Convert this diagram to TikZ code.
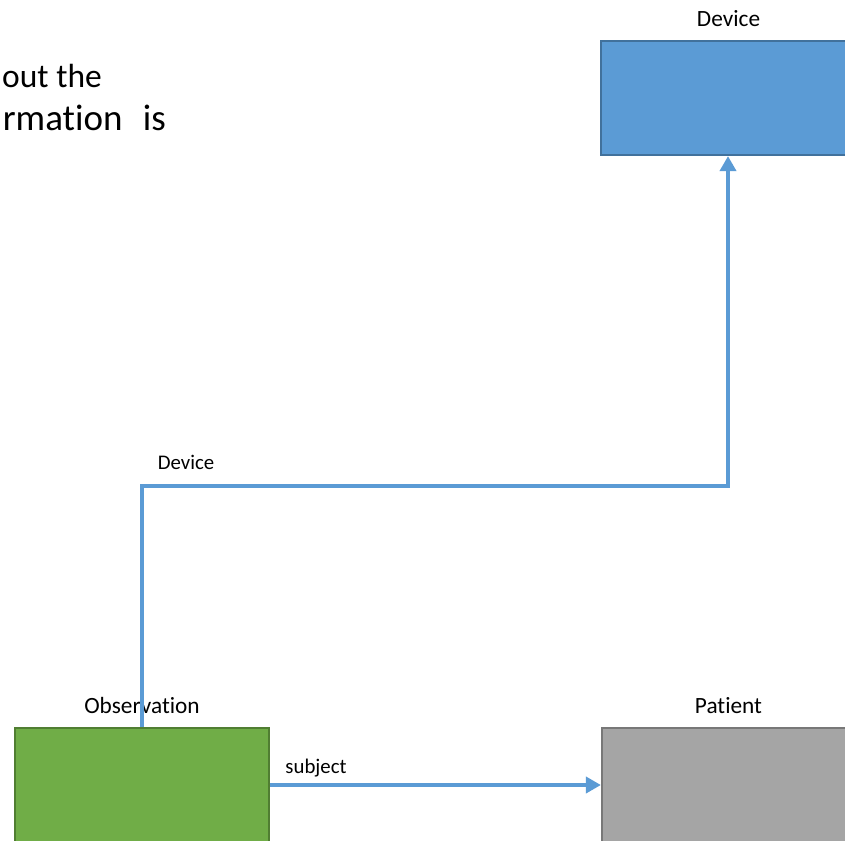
\documentclass[tikz,border=0pt]{standalone}
\usepackage{fontspec}
\setmainfont[Ligatures={NoCommon}]{Carlito}
\usetikzlibrary{arrows.meta}
\definecolor{lnblue}{HTML}{5B9BD5}
\definecolor{devfill}{HTML}{5B9BD5}
\definecolor{devdraw}{HTML}{41719C}
\definecolor{obsfill}{HTML}{70AD47}
\definecolor{obsdraw}{HTML}{507E32}
\definecolor{patfill}{HTML}{A5A5A5}
\definecolor{patdraw}{HTML}{787878}
\tikzset{
  box/.style={rectangle, minimum width=254pt, minimum height=114pt, line width=2.2pt, inner sep=0pt},
  boxlabel/.style={anchor=base, inner sep=0pt, font=\fontsize{23.3}{28}\selectfont},
  edgelabel/.style={anchor=base, inner sep=0pt, font=\fontsize{20.8}{25}\selectfont},
  bigtext/.style={anchor=base east, inner sep=0pt, font=\fontsize{36}{43}\selectfont},
  conn/.style={draw=lnblue, line width=4pt, -{Triangle[length=15pt,width=16pt]}}
}
\begin{document}
\begin{tikzpicture}[x=1pt,y=-1pt]
\useasboundingbox (0,0) rectangle (845,840);
\clip (0,0) rectangle (845,840);
\node[box, fill=devfill, draw=devdraw] (dev) at (728,98) {};
\node[box, fill=obsfill, draw=obsdraw] (obs) at (142,785) {};
\node[box, fill=patfill, draw=patdraw] (pat) at (729,785) {};
\node[boxlabel] (devl) at (728.5,27) {Device};
\node[boxlabel] (obsl) at (142,713) {Observation};
\node[boxlabel] (patl) at (728.5,713) {Patient};
\node[bigtext, font=\fontsize{33.5}{40}\selectfont] (t1) at (102,88) {out the};
\node[bigtext, font=\fontsize{37}{44}\selectfont] (t2) at (166,131) {rmation\hspace{0.55em}is};
\coordinate (k) at (142,486);
\draw[conn] (obs.north) -- (k) -| (dev.south);
\draw[conn] (obs.east) -- (pat.west);
\node[edgelabel] (el1) at (186,469) {Device};
\node[edgelabel] (el2) at (316,773) {subject};
\end{tikzpicture}
\end{document}
